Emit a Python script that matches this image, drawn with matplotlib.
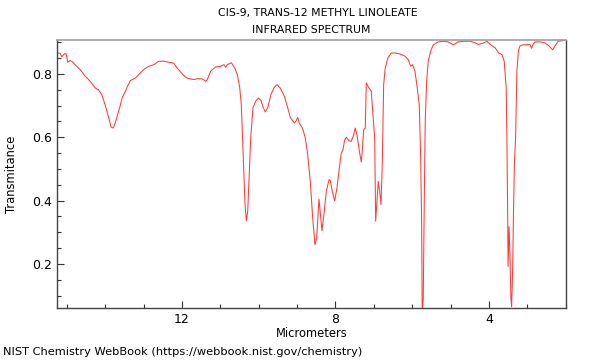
import matplotlib
matplotlib.use("Agg")
import matplotlib.pyplot as plt
from matplotlib.ticker import MultipleLocator

title_lines = ["CIS-9, TRANS-12 METHYL LINOLEATE", "INFRARED SPECTRUM"]
x_label = "Micrometers"
y_label = "Transmitance"
footer = "NIST Chemistry WebBook (https://webbook.nist.gov/chemistry)"

wavelength_um = [
    15.24, 15.18, 15.135, 15.067, 15.023, 14.979, 14.919, 14.875, 14.788, 14.658,
    14.528, 14.397, 14.267, 14.181, 14.093, 14.007, 13.921, 13.850, 13.790, 13.702,
    13.616, 13.564, 13.478, 13.433, 13.347, 13.217, 13.128, 12.998, 12.868, 12.737,
    12.607, 12.477, 12.347, 12.216, 12.130, 12.018, 11.914, 11.825, 11.687, 11.601,
    11.471, 11.382, 11.341, 11.252, 11.122, 10.992, 10.906, 10.861, 10.820, 10.715,
    10.627, 10.559, 10.496, 10.455, 10.429, 10.392, 10.358, 10.324, 10.288, 10.254,
    10.210, 10.150, 10.079, 10.006, 9.941, 9.881, 9.829, 9.767, 9.681, 9.595,
    9.524, 9.446, 9.334, 9.246, 9.178, 9.074, 9.029, 8.985, 8.943, 8.855,
    8.787, 8.724, 8.657, 8.594, 8.534, 8.490, 8.430, 8.352, 8.292, 8.240,
    8.169, 8.135, 8.083, 8.021, 7.961, 7.909, 7.849, 7.804, 7.760, 7.718,
    7.648, 7.588, 7.526, 7.484, 7.440, 7.369, 7.328, 7.302, 7.265, 7.223,
    7.197, 7.153, 7.067, 7.023, 6.978, 6.952, 6.918, 6.885, 6.848, 6.814,
    6.780, 6.744, 6.702, 6.632, 6.546, 6.449, 6.319, 6.189, 6.103, 6.040,
    5.988, 5.928, 5.868, 5.816, 5.780, 5.754, 5.738, 5.712, 5.686, 5.660,
    5.623, 5.582, 5.519, 5.452, 5.321, 5.191, 5.061, 4.930, 4.800, 4.659,
    4.487, 4.357, 4.268, 4.138, 4.052, 3.966, 3.836, 3.747, 3.661, 3.601,
    3.549, 3.531, 3.513, 3.500, 3.474, 3.453, 3.427, 3.408, 3.382, 3.356,
    3.335, 3.304, 3.270, 3.231, 3.192, 3.106, 3.010, 2.932, 2.887, 2.853,
    2.801, 2.671, 2.541, 2.428, 2.340, 2.280, 2.194, 2.063, 1.993,
]

transmittance = [
    0.866, 0.865, 0.854, 0.863, 0.864, 0.837, 0.842, 0.840, 0.829, 0.814,
    0.793, 0.777, 0.756, 0.750, 0.735, 0.703, 0.666, 0.632, 0.629, 0.661,
    0.698, 0.724, 0.745, 0.758, 0.779, 0.787, 0.798, 0.814, 0.824, 0.829,
    0.840, 0.840, 0.837, 0.834, 0.819, 0.803, 0.790, 0.785, 0.782, 0.785,
    0.784, 0.777, 0.782, 0.809, 0.822, 0.824, 0.829, 0.821, 0.829, 0.835,
    0.819, 0.798, 0.756, 0.703, 0.619, 0.493, 0.387, 0.336, 0.366, 0.471,
    0.598, 0.693, 0.714, 0.724, 0.716, 0.693, 0.680, 0.693, 0.735, 0.758,
    0.766, 0.756, 0.730, 0.693, 0.663, 0.645, 0.651, 0.663, 0.645, 0.627,
    0.598, 0.545, 0.461, 0.345, 0.261, 0.282, 0.405, 0.305, 0.366, 0.429,
    0.466, 0.463, 0.429, 0.400, 0.440, 0.493, 0.550, 0.561, 0.592, 0.600,
    0.589, 0.587, 0.608, 0.629, 0.608, 0.550, 0.522, 0.556, 0.624, 0.629,
    0.772, 0.761, 0.745, 0.671, 0.598, 0.335, 0.398, 0.461, 0.429, 0.387,
    0.513, 0.766, 0.819, 0.851, 0.866, 0.866, 0.863, 0.856, 0.845, 0.824,
    0.829, 0.809, 0.756, 0.703, 0.545, 0.336, 0.035, 0.090, 0.387, 0.650,
    0.777, 0.840, 0.872, 0.891, 0.901, 0.903, 0.901, 0.892, 0.901, 0.903,
    0.903, 0.898, 0.893, 0.898, 0.903, 0.893, 0.882, 0.866, 0.861, 0.840,
    0.756, 0.598, 0.387, 0.192, 0.318, 0.240, 0.092, 0.065, 0.177, 0.387,
    0.516, 0.598, 0.809, 0.873, 0.888, 0.892, 0.892, 0.893, 0.881, 0.892,
    0.901, 0.901, 0.898, 0.888, 0.876, 0.888, 0.903, 0.905, 0.908,
]

fig = plt.figure(figsize=(6, 3.6), dpi=100)
ax = fig.add_axes([57 / 600, 52 / 360, 509 / 600, 268 / 360])
ax.plot(wavelength_um, transmittance, color="#ff3b3b", linewidth=0.75)
ax.set_xlim(15.26, 1.99)
ax.set_ylim(0.061, 0.907)

ax.xaxis.set_major_locator(MultipleLocator(4))
ax.xaxis.set_minor_locator(MultipleLocator(1))
ax.yaxis.set_major_locator(MultipleLocator(0.2))
ax.yaxis.set_minor_locator(MultipleLocator(0.05))
ax.tick_params(which="both", direction="in", top=False, right=False,
               color="#333333", labelsize=9, labelcolor="black")
ax.tick_params(which="major", length=5, width=0.8)
ax.tick_params(which="minor", length=3, width=0.8)

for side in ["left", "bottom", "right"]:
    ax.spines[side].set_color("#444444")
    ax.spines[side].set_linewidth(1.0)
ax.spines["top"].set_color("#a0a0a0")
ax.spines["top"].set_linewidth(1.2)

ax.set_xlabel(x_label, fontsize=8.3, labelpad=1)
ax.set_ylabel(y_label, fontsize=8.3, labelpad=10)

fig.text(318 / 600, 1 - 13 / 360, title_lines[0], ha="center", va="center", fontsize=7.8)
fig.text(311.5 / 600, 1 - 30 / 360, title_lines[1], ha="center", va="center", fontsize=7.8)
fig.text(3 / 600, 1 - 352 / 360, footer, ha="left", va="center", fontsize=8.2)

fig.savefig("out.png", dpi=100)
